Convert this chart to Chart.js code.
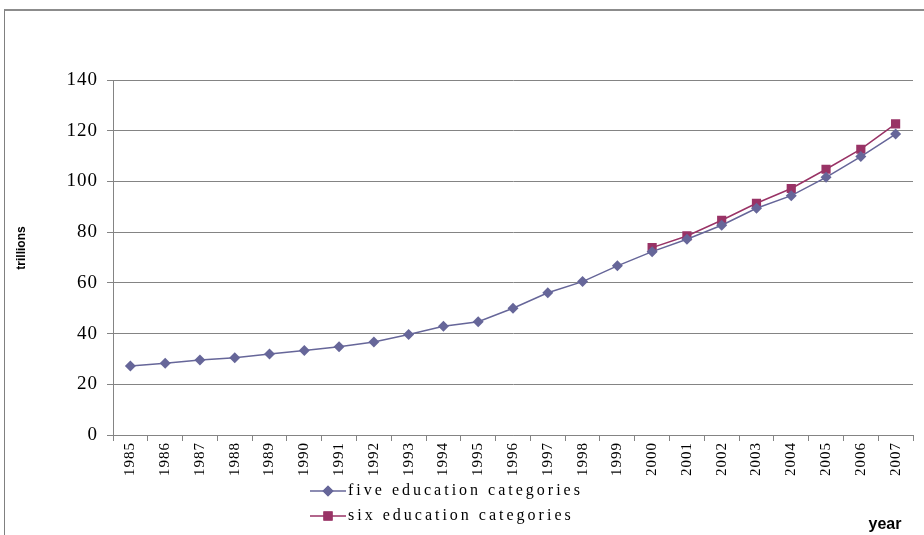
<!DOCTYPE html>
<html>
<head>
<meta charset="utf-8">
<title>trillions by year</title>
<script src="https://cdn.jsdelivr.net/npm/chart.js@4.4.1/dist/chart.umd.min.js"></script>
<style>
  html, body { margin: 0; padding: 0; background: #fff; }
  #wrap { position: relative; width: 924px; height: 535px; overflow: hidden; }
  #frame { position: absolute; left: 4px; top: 9px; width: 1000px; height: 600px;
           border-left: 1px solid #808080; border-top: 2px solid #8c8c8c; }
  canvas { position: absolute; left: 0; top: 0; }
</style>
</head>
<body>
<div id="wrap">
  <div id="frame"></div>
  <canvas id="chart" width="924" height="535"></canvas>
</div>
<script>
const years = ["1985", "1986", "1987", "1988", "1989", "1990", "1991", "1992",
  "1993", "1994", "1995", "1996", "1997", "1998", "1999", "2000", "2001",
  "2002", "2003", "2004", "2005", "2006", "2007"];
const fiveCategories = [27.2, 28.3, 29.6, 30.5, 31.9, 33.3, 34.8, 36.7, 39.6,
  42.9, 44.7, 50.0, 56.1, 60.5, 66.7, 72.3, 77.2, 82.7, 89.4, 94.4, 101.6,
  109.8, 118.7];
const sixCategories = [null, null, null, null, null, null, null, null, null,
  null, null, null, null, null, null, 73.9, 78.5, 84.7, 91.4, 97.2, 104.8,
  112.7, 122.7];
const yTicks = [0, 20, 40, 60, 80, 100, 120, 140];

const BLUE = "#666699";
const RED = "#993366";
const GRID = "#848484";
const SERIF = "'Liberation Serif', 'Times New Roman', serif";
const BOLD_SANS = "'Liberation Sans', Arial, sans-serif";

// slight tracking for the serif tick labels drawn by the scales
const tracking = {
  id: "tracking",
  beforeLayout(chart) { chart.ctx.letterSpacing = "1px"; },
  beforeDraw(chart) { chart.ctx.letterSpacing = "1px"; }
};

// legend list under the axis plus the two axis captions
const extras = {
  id: "extras",
  afterDraw(chart) {
    const ctx = chart.ctx;
    ctx.save();
    chart.data.datasets.forEach((ds, i) => {
      const y = 491 + i * 25;
      ctx.strokeStyle = ds.borderColor;
      ctx.lineWidth = 1.5;
      ctx.beginPath();
      ctx.moveTo(310, y);
      ctx.lineTo(346, y);
      ctx.stroke();
      ctx.fillStyle = ds.backgroundColor;
      Chart.helpers.drawPoint(ctx, { pointStyle: ds.pointStyle, radius: ds.pointRadius, borderWidth: 0 }, 328, y);
      ctx.fill();
      ctx.fillStyle = "#000";
      ctx.letterSpacing = "3px";
      ctx.font = "16px " + SERIF;
      ctx.textBaseline = "middle";
      ctx.textAlign = "left";
      ctx.fillText(ds.label, 348, y);
    });

    ctx.letterSpacing = "0px";
    ctx.font = "bold 16px " + BOLD_SANS;
    ctx.fillStyle = "#000";
    ctx.textAlign = "center";
    ctx.textBaseline = "middle";
    ctx.fillText("year", 885, 525);

    ctx.translate(22, 248);
    ctx.rotate(-Math.PI / 2);
    ctx.font = "bold 12px " + BOLD_SANS;
    ctx.fillText("trillions", 0, 0);
    ctx.restore();
  }
};

new Chart(document.getElementById("chart"), {
  type: "line",
  data: {
    labels: years,
    datasets: [
      {
        label: "five education categories",
        data: fiveCategories,
        borderColor: BLUE,
        backgroundColor: BLUE,
        borderWidth: 1.5,
        pointStyle: "rectRot",
        pointRadius: 5.5,
        pointBorderWidth: 0,
        tension: 0
      },
      {
        label: "six education categories",
        data: sixCategories,
        borderColor: RED,
        backgroundColor: RED,
        borderWidth: 1.5,
        pointStyle: "rect",
        pointRadius: 6.5,
        pointBorderWidth: 0,
        tension: 0
      }
    ]
  },
  options: {
    responsive: false,
    animation: false,
    layout: { padding: { top: 80, right: 11, left: 0, bottom: 0 } },
    plugins: {
      legend: { display: false },
      tooltip: { enabled: false }
    },
    scales: {
      x: {
        type: "category",
        offset: true,
        afterFit(scale) { scale.height = 100; },
        border: { color: GRID, width: 1 },
        grid: { offset: true, drawOnChartArea: false, drawTicks: true, tickLength: 6, color: GRID },
        ticks: {
          color: "#000",
          font: { family: SERIF, size: 15 },
          minRotation: 90,
          maxRotation: 90,
          autoSkip: false,
          padding: 1
        }
      },
      y: {
        min: 0,
        max: 140,
        afterFit(scale) { scale.width = 113; },
        afterBuildTicks(scale) { scale.ticks = yTicks.map(v => ({ value: v })); },
        border: { color: GRID, width: 1 },
        grid: { color: GRID, lineWidth: 1, drawTicks: true, tickLength: 6 },
        ticks: {
          color: "#000",
          font: { family: SERIF, size: 19 },
          padding: 9
        }
      }
    }
  },
  plugins: [tracking, extras]
});
</script>
</body>
</html>
